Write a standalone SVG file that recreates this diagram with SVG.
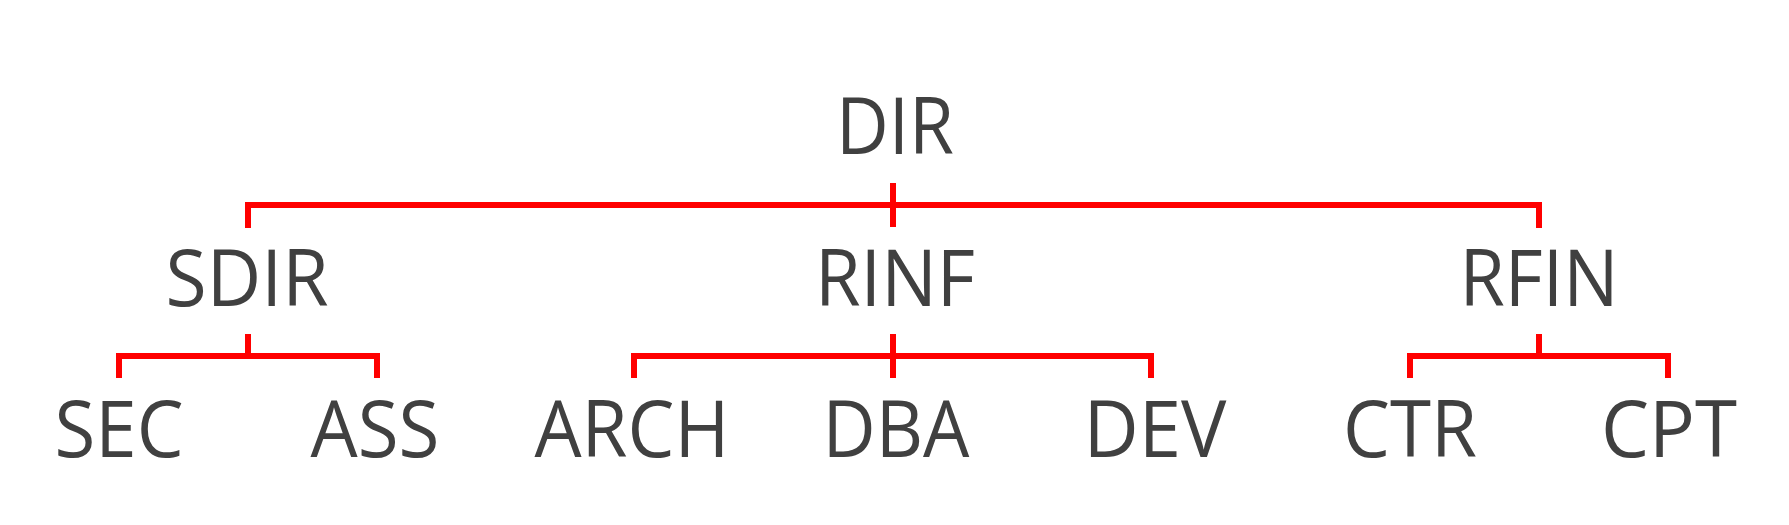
<svg xmlns="http://www.w3.org/2000/svg" width="1789" height="525" viewBox="0 0 1789 525">
<style>
.t{font-family:"Open Sans","Liberation Sans",sans-serif;font-size:78px;fill:#404040;text-anchor:middle}
.c{stroke:#FF0000;stroke-width:6;fill:none;stroke-linecap:butt}
</style>
<rect width="1789" height="525" fill="#ffffff"/>
<g id="connectors">
<path class="c" d="M248,228 V205 H1539 V228"/>
<path class="c" d="M893,183 V227"/>
<path class="c" d="M119,378 V356 H377 V378"/>
<path class="c" d="M248,334 V356"/>
<path class="c" d="M634,378 V356 H1151 V378"/>
<path class="c" d="M893,334 V378"/>
<path class="c" d="M1410,378 V356 H1668 V378"/>
<path class="c" d="M1539,334 V356"/>
</g>
<g id="DIR"><text class="t" x="895" y="154" textLength="118" lengthAdjust="spacingAndGlyphs">DIR</text></g>
<g id="SDIR"><text class="t" x="247" y="306" textLength="163" lengthAdjust="spacingAndGlyphs">SDIR</text></g>
<g id="RINF"><text class="t" x="895" y="306" textLength="160" lengthAdjust="spacingAndGlyphs">RINF</text></g>
<g id="RFIN"><text class="t" x="1539" y="306" textLength="159" lengthAdjust="spacingAndGlyphs">RFIN</text></g>
<g id="SEC"><text class="t" x="119" y="457" textLength="129" lengthAdjust="spacingAndGlyphs">SEC</text></g>
<g id="ASS"><text class="t" x="375" y="457" textLength="129" lengthAdjust="spacingAndGlyphs">ASS</text></g>
<g id="ARCH"><text class="t" x="632" y="457" textLength="195" lengthAdjust="spacingAndGlyphs">ARCH</text></g>
<g id="DBA"><text class="t" x="896" y="457" textLength="147" lengthAdjust="spacingAndGlyphs">DBA</text></g>
<g id="DEV"><text class="t" x="1155" y="457" textLength="143" lengthAdjust="spacingAndGlyphs">DEV</text></g>
<g id="CTR"><text class="t" x="1410" y="457" textLength="134" lengthAdjust="spacingAndGlyphs">CTR</text></g>
<g id="CPT"><text class="t" x="1669" y="457" textLength="136" lengthAdjust="spacingAndGlyphs">CPT</text></g>
</svg>
